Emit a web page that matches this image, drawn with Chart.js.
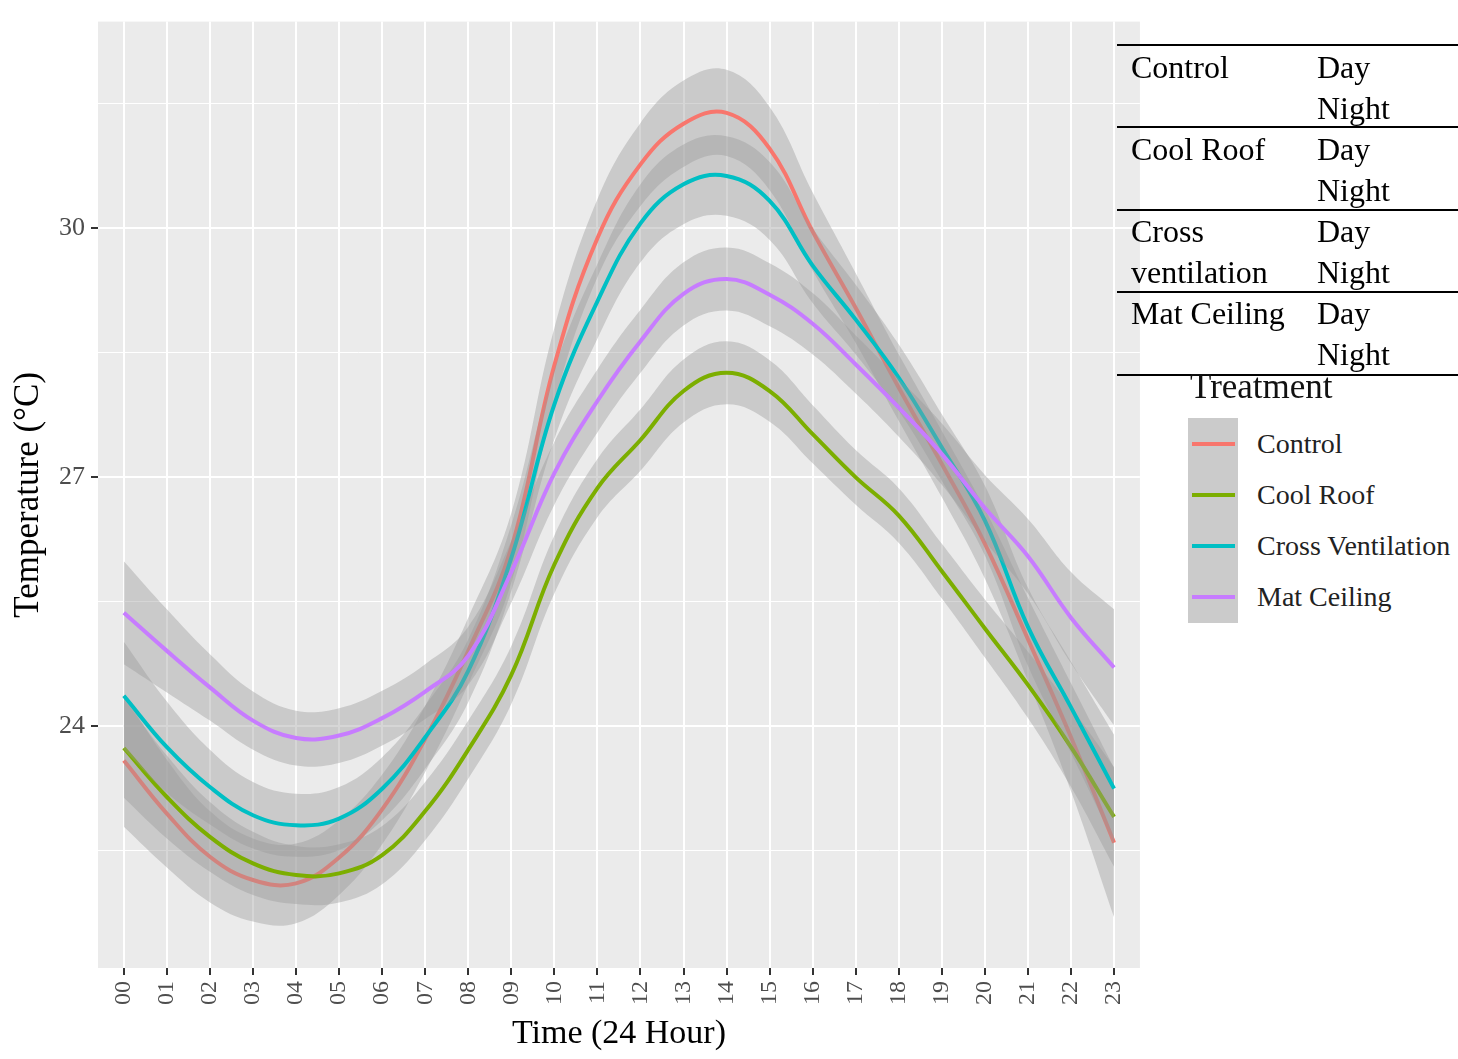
<!DOCTYPE html>
<html>
<head>
<meta charset="utf-8">
<script src="https://cdn.jsdelivr.net/npm/chart.js@4.4.1/dist/chart.umd.min.js"></script>
<style>
  body { margin:0; background:#fff; width:1458px; height:1059px; overflow:hidden; position:relative; font-family:"Liberation Serif", "Times New Roman", serif; }
  #wrap { position:absolute; left:0; top:0; width:1149px; height:1059px; }
  .rule { position:absolute; left:1117px; width:341px; height:0; border-top:2px solid #000; }
  .cell { position:absolute; font-size:32px; color:#000; line-height:41px; height:41px; white-space:nowrap; }
  .ttl { position:absolute; left:1190px; top:368px; font-size:35px; line-height:38px; color:#111; }
  .keybox { position:absolute; left:1188px; top:418px; width:50px; height:205px; background:#CBCBCB; }
  .keyline { position:absolute; left:1192px; width:43px; height:4px; }
  .klab { position:absolute; left:1257px; font-size:28px; line-height:30px; color:#222; white-space:nowrap; }
</style>
</head>
<body>
<div id="wrap"><canvas id="myChart"></canvas></div>

<div class="rule" style="top:44px"></div>
<div class="rule" style="top:126px"></div>
<div class="rule" style="top:209px"></div>
<div class="rule" style="top:291px"></div>
<div class="rule" style="top:374px"></div>

<div class="cell" style="left:1131px;top:47px">Control</div>
<div class="cell" style="left:1317px;top:47px">Day</div>
<div class="cell" style="left:1317px;top:88px">Night</div>
<div class="cell" style="left:1131px;top:129px">Cool Roof</div>
<div class="cell" style="left:1317px;top:129px">Day</div>
<div class="cell" style="left:1317px;top:170px">Night</div>
<div class="cell" style="left:1131px;top:211px">Cross</div>
<div class="cell" style="left:1131px;top:252px">ventilation</div>
<div class="cell" style="left:1317px;top:211px">Day</div>
<div class="cell" style="left:1317px;top:252px">Night</div>
<div class="cell" style="left:1131px;top:293px">Mat Ceiling</div>
<div class="cell" style="left:1317px;top:293px">Day</div>
<div class="cell" style="left:1317px;top:334px">Night</div>

<div class="ttl">Treatment</div>
<div class="keybox"></div>
<div id="legend"></div>

<script>
const hours = ["00","01","02","03","04","05","06","07","08","09","10","11",
               "12","13","14","15","16","17","18","19","20","21","22","23"];

// smoothed means
const control    = [23.59, 22.95, 22.43, 22.15, 22.11, 22.42, 23.00, 23.85, 24.91, 26.15, 28.35, 29.88,
                    30.77, 31.26, 31.39, 30.96, 29.96, 29.04, 28.08, 27.16, 26.20, 25.05, 23.87, 22.60];
const coolRoof   = [23.74, 23.15, 22.67, 22.35, 22.21, 22.23, 22.45, 22.98, 23.72, 24.62, 25.95, 26.87,
                    27.45, 28.04, 28.26, 28.04, 27.52, 27.00, 26.54, 25.87, 25.18, 24.50, 23.75, 22.91];
const crossVent  = [24.37, 23.75, 23.27, 22.93, 22.81, 22.89, 23.25, 23.87, 24.67, 26.03, 27.88, 29.12,
                    30.06, 30.53, 30.63, 30.33, 29.55, 28.90, 28.20, 27.36, 26.48, 25.20, 24.23, 23.25];
const matCeiling = [25.37, 24.91, 24.47, 24.07, 23.86, 23.89, 24.10, 24.42, 24.85, 25.86, 27.05, 27.92,
                    28.64, 29.21, 29.39, 29.20, 28.85, 28.36, 27.84, 27.28, 26.63, 26.05, 25.31, 24.71];

// half width of the grey confidence band
const controlCi    = [0.80, 0.65, 0.55, 0.50, 0.48, 0.45, 0.42, 0.40, 0.40, 0.42, 0.45, 0.47,
                      0.50, 0.52, 0.52, 0.50, 0.47, 0.42, 0.40, 0.40, 0.42, 0.50, 0.65, 0.90];
const coolRoofCi   = [0.60, 0.50, 0.42, 0.38, 0.35, 0.35, 0.35, 0.35, 0.35, 0.35, 0.35, 0.35,
                      0.37, 0.38, 0.38, 0.37, 0.35, 0.33, 0.33, 0.33, 0.35, 0.40, 0.48, 0.60];
const crossVentCi  = [0.65, 0.55, 0.45, 0.40, 0.38, 0.38, 0.38, 0.38, 0.38, 0.40, 0.42, 0.45,
                      0.47, 0.48, 0.48, 0.47, 0.45, 0.42, 0.40, 0.40, 0.42, 0.47, 0.55, 0.65];
const matCeilingCi = [0.62, 0.50, 0.40, 0.35, 0.33, 0.33, 0.33, 0.33, 0.35, 0.37, 0.38, 0.38,
                      0.38, 0.38, 0.38, 0.38, 0.37, 0.35, 0.35, 0.37, 0.40, 0.45, 0.55, 0.70];

const seriesNames  = ["Control", "Cool Roof", "Cross Ventilation", "Mat Ceiling"];
const seriesColors = ["#F8766D", "#7CAE00", "#00BFC4", "#C77CFF"];

const yMin = 21.09, yMax = 32.49;
const yTicks = [22.5, 24, 25.5, 27, 28.5, 30, 31.5];
const yLabelled = [24, 27, 30];

const fontFam = "'Liberation Serif', 'Times New Roman', serif";

// legend on the right
const legendEl = document.getElementById("legend");
seriesNames.forEach((name, k) => {
  const cy = 444 + k * 51;
  legendEl.innerHTML += `<div class="keyline" style="top:${cy - 2}px;background:${seriesColors[k]}"></div>` +
                        `<div class="klab" style="top:${cy - 15}px">${name}</div>`;
});

const allValues = [control, coolRoof, crossVent, matCeiling];
const allCi = [controlCi, coolRoofCi, crossVentCi, matCeilingCi];

const datasets = [];
allValues.forEach((vals, k) => {
  const base = (4 - k) * 2;
  datasets.push({
    data: vals.map((v, i) => ({ x: i, y: v + allCi[k][i] })),
    borderColor: "rgba(0,0,0,0)", borderWidth: 0, pointRadius: 0, fill: false, order: base, tension: 0.4
  });
  datasets.push({
    data: vals.map((v, i) => ({ x: i, y: v - allCi[k][i] })),
    borderColor: "rgba(0,0,0,0)", borderWidth: 0, pointRadius: 0, fill: "-1",
    backgroundColor: "rgba(153,153,153,0.4)", order: base, tension: 0.4
  });
  datasets.push({
    label: seriesNames[k],
    data: vals.map((v, i) => ({ x: i, y: v })),
    borderColor: seriesColors[k], borderWidth: 4, pointRadius: 0, fill: false,
    order: base - 1, tension: 0.4
  });
});

const panelBg = {
  id: "panelBg",
  beforeDraw(chart) {
    const a = chart.chartArea, ctx = chart.ctx;
    ctx.save();
    ctx.fillStyle = "#EBEBEB";
    ctx.fillRect(a.left, a.top, a.right - a.left, a.bottom - a.top);
    ctx.restore();
  }
};

new Chart("myChart", {
  type: "line",
  data: { datasets: datasets },
  plugins: [panelBg],
  options: {
    responsive: true,
    maintainAspectRatio: false,
    animation: false,
    events: [],
    layout: { padding: { top: 20, right: 5, left: 0, bottom: 0 } },
    plugins: { legend: { display: false }, tooltip: { enabled: false } },
    scales: {
      x: {
        type: "linear", min: -0.6, max: 23.6,
        afterBuildTicks: s => { s.ticks = hours.map((h, i) => ({ value: i })); },
        afterFit: s => { s.height = 91; },
        ticks: {
          autoSkip: false, minRotation: 90, maxRotation: 90, padding: 6,
          color: "#4D4D4D", font: { family: fontFam, size: 24 },
          callback: v => hours[v]
        },
        grid: { color: "#FFFFFF", lineWidth: 2, tickColor: "#333333", tickLength: 7 },
        border: { display: false },
        title: { display: true, text: "Time (24 Hour)", color: "#000", font: { family: fontFam, size: 34 }, padding: { top: 0, bottom: 5 } }
      },
      y: {
        min: yMin, max: yMax,
        afterBuildTicks: s => { s.ticks = yTicks.map(v => ({ value: v })); },
        afterFit: s => { s.width = 98; },
        ticks: {
          padding: 6, color: "#4D4D4D", font: { family: fontFam, size: 26 },
          callback: v => yLabelled.includes(v) ? String(v) : ""
        },
        grid: {
          color: "#FFFFFF",
          lineWidth: c => (c.tick && yLabelled.includes(c.tick.value)) ? 2 : 1,
          tickColor: c => (c.tick && yLabelled.includes(c.tick.value)) ? "#333333" : "rgba(0,0,0,0)",
          tickLength: 7
        },
        border: { display: false },
        title: { display: true, text: "Temperature (°C)", color: "#000", font: { family: fontFam, size: 35 }, padding: { top: 8, bottom: 0 } }
      }
    }
  }
});
</script>
</body>
</html>
